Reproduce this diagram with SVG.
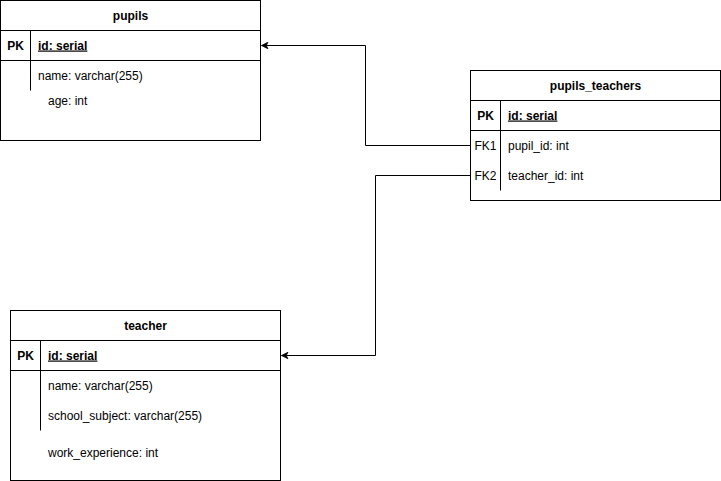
<svg xmlns="http://www.w3.org/2000/svg" width="721" height="481" viewBox="0 0 721 481">
<defs>
<style>
.box{fill:#fff;stroke:#000;stroke-width:1}
.ln{stroke:#000;stroke-width:1;fill:none}
text{font-family:"Liberation Sans",Arial,sans-serif;font-size:12px;fill:#000}
.t{font-weight:bold;text-anchor:middle}
.b{font-weight:bold}
.u{text-decoration:underline}
.c{text-anchor:middle}
</style>
<marker id="arr" viewBox="0 0 10 10" refX="9" refY="5" markerWidth="8" markerHeight="8" markerUnits="userSpaceOnUse" orient="auto">
<path d="M1,1 L9,5 L1,9 L3,5 Z" fill="#000" stroke="#000" stroke-width="1"/>
</marker>
</defs>
<rect width="721" height="481" fill="#fff"/>
<g id="connectors">
<path class="ln" d="M470.5,145.5 H365.5 V45.5 H261.5" marker-end="url(#arr)"/>
<path class="ln" d="M470.5,175.5 H375.5 V355.5 H281.5" marker-end="url(#arr)"/>
</g>
<g id="pupils">
<rect class="box" x="0.5" y="0.5" width="260" height="140"/>
<line class="ln" x1="0.5" y1="30.5" x2="260.5" y2="30.5"/>
<line class="ln" x1="0.5" y1="60.5" x2="260.5" y2="60.5"/>
<line class="ln" x1="30.5" y1="30.5" x2="30.5" y2="90.5"/>
<text class="t" x="130.5" y="19.5">pupils</text>
<text class="b c" x="15.5" y="49.5">PK</text>
<text class="b u" x="38" y="49.5">id: serial</text>
<text x="38" y="79.5">name: varchar(255)</text>
<text x="48" y="104.5">age: int</text>
</g>
<g id="pupils_teachers">
<rect class="box" x="470.5" y="70.5" width="250" height="130"/>
<line class="ln" x1="470.5" y1="100.5" x2="720.5" y2="100.5"/>
<line class="ln" x1="470.5" y1="130.5" x2="720.5" y2="130.5"/>
<line class="ln" x1="500.5" y1="100.5" x2="500.5" y2="190.5"/>
<text class="t" x="595.5" y="89.5">pupils_teachers</text>
<text class="b c" x="485.5" y="119.5">PK</text>
<text class="b u" x="508" y="119.5">id: serial</text>
<text class="c" x="485.5" y="149.5">FK1</text>
<text x="508" y="149.5">pupil_id: int</text>
<text class="c" x="485.5" y="179.5">FK2</text>
<text x="508" y="179.5">teacher_id: int</text>
</g>
<g id="teacher">
<rect class="box" x="10.5" y="310.5" width="270" height="170"/>
<line class="ln" x1="10.5" y1="340.5" x2="280.5" y2="340.5"/>
<line class="ln" x1="10.5" y1="370.5" x2="280.5" y2="370.5"/>
<line class="ln" x1="40.5" y1="340.5" x2="40.5" y2="430.5"/>
<text class="t" x="145.5" y="329.5">teacher</text>
<text class="b c" x="25.5" y="359.5">PK</text>
<text class="b u" x="48" y="359.5">id: serial</text>
<text x="48" y="389.5">name: varchar(255)</text>
<text x="48" y="419.5">school_subject: varchar(255)</text>
<text x="48" y="456.5">work_experience: int</text>
</g>
</svg>
